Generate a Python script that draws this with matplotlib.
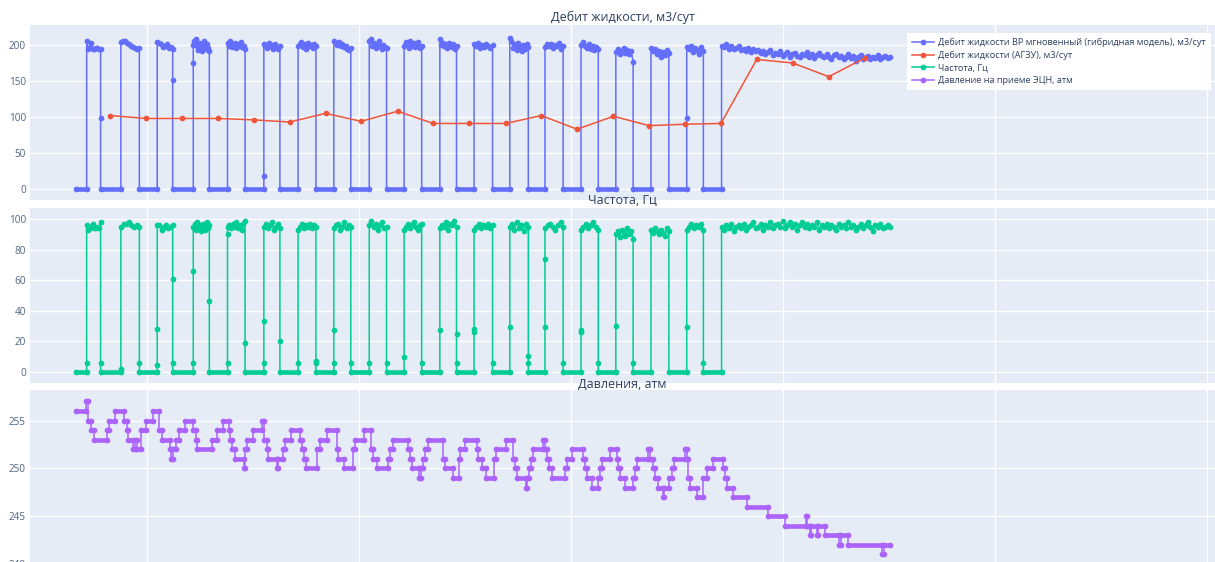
import numpy as np
import matplotlib
matplotlib.use("Agg")
import matplotlib.pyplot as plt

plt.rcParams['font.family'] = ['Open Sans', 'DejaVu Sans']

# время в сутках, сетка по неделям
t_first = -2.33
run_start = [-1.98, -0.85, 0.35, 1.54, 2.67, 3.87, 5.00, 6.18, 7.35, 8.50,
             9.68, 10.81, 11.99, 13.15, 14.34, 15.49, 16.65, 17.83, 18.98]
run_stop = [-1.52, -0.24, 0.86, 2.07, 3.25, 4.40, 5.59, 6.74, 7.92, 9.08,
            10.23, 11.42, 12.60, 13.75, 14.91, 16.06, 17.24, 18.38, 24.54]

# дебит ВР мгновенный, м3/сут (значения на участках работы)
flow_on = [
    [206, 194, 197, 203, 195, 194, 196, 196, 195, 194],
    [204, 205, 205, 203, 201, 198, 197, 196, 195, 196],
    [204, 203, 201, 197, 199, 201, 196, 197, 195],
    [200, 205, 208, 198, 193, 203, 196, 201, 191, 205, 199, 194, 202, 196, 192],
    [203, 198, 205, 197, 200, 203, 196, 201, 198, 204, 197, 199, 195],
    [202, 199, 196, 203, 198, 200, 195, 201, 197, 194, 199],
    [199, 202, 204, 197, 201, 195, 203, 198, 200, 196, 202, 199],
    [206, 203, 200, 204, 198, 201, 197, 199, 195, 193, 196],
    [205, 208, 199, 203, 196, 201, 206, 198, 194, 200, 197, 196],
    [198, 204, 201, 196, 205, 199, 203, 197, 201, 204, 196, 199],
    [208, 200, 203, 198, 201, 196, 203, 199, 197, 201, 195, 198],
    [202, 198, 203, 196, 200, 197, 202, 199, 196, 200],
    [210, 205, 196, 201, 193, 203, 198, 191, 200, 195, 202, 197],
    [197, 201, 199, 202, 196, 200, 198, 203, 195, 199],
    [200, 204, 198, 196, 202, 195, 199, 193, 197, 194],
    [190, 194, 188, 192, 196, 189, 193, 187, 191, 177],
    [196, 192, 194, 188, 191, 184, 190, 186, 193, 189],
    [197, 195, 199, 190, 196, 193, 188, 197, 192],
    [199, 197, 201, 195, 198, 194, 196, 199, 193, 195, 192, 196, 190, 194,
     191, 193, 189, 192, 188, 190, 193, 186, 189, 187, 191, 185, 188, 190,
     184, 187, 189, 185, 183, 188, 186, 190, 184, 187, 182, 186, 189, 185,
     183, 187, 184, 181, 186, 188, 183, 185, 180, 184, 187, 182, 185, 178,
     184, 186, 181, 183, 185, 180, 184, 182, 186, 181, 183, 185, 182, 184],
]
flow_rise = [[], [], [], [175], [], [18], [], [], [], [], [], [], [], [], [], [], [], [99], []]
flow_fall = [[98], [], [151], [], [], [], [], [], [], [], [], [], [], [], [], [], [], [], []]

# дебит по АГЗУ
agzu_time = [-1.21, -0.02, 1.17, 2.35, 3.54, 4.72, 5.91, 7.08, 8.29, 9.46, 10.65,
             11.85, 13.03, 14.21, 15.41, 16.59, 17.78, 18.96, 20.14, 21.33, 22.52, 23.71]
agzu_rate = [102, 98, 98, 98, 96, 93, 105, 94, 108, 91, 91,
             91, 102, 83, 101, 88, 90, 91, 180, 175, 156, 182]

# частота, Гц
freq_on = [
    [96, 93, 94, 95, 97, 94, 94, 95, 94, 98],
    [95, 97, 97, 98, 96, 95, 96, 95],
    [96, 96, 93, 95, 96, 94, 95, 96],
    [95, 97, 93, 98, 94, 96, 92, 97, 95, 93, 98, 94, 96],
    [95, 96, 94, 97, 95, 98, 94, 96, 93, 97, 99],
    [95, 97, 94, 96, 98, 93, 95, 97, 94],
    [93, 95, 97, 94, 96, 95, 97, 94, 96, 95],
    [94, 96, 97, 93, 95, 98, 94, 96, 95],
    [96, 99, 95, 97, 93, 96, 98, 94, 95],
    [93, 95, 97, 94, 96, 98, 95, 93, 96, 97],
    [94, 96, 95, 98, 93, 97, 96, 99, 95],
    [93, 95, 97, 94, 96, 95, 97, 94, 96],
    [95, 97, 93, 98, 94, 96, 92, 97, 95],
    [94, 96, 97, 95, 93, 96, 98, 95],
    [93, 95, 97, 94, 96, 98, 95, 93],
    [90, 92, 88, 93, 91, 89, 94, 90, 92, 87],
    [93, 91, 94, 92, 90, 93, 91, 89, 94, 92],
    [93, 95, 97, 94, 96, 95, 97, 93],
    [95, 93, 96, 94, 97, 92, 95, 96, 94, 97, 93, 95, 96, 98, 94, 95, 97, 93,
     96, 95, 98, 94, 96, 97, 95, 99, 94, 96, 98, 95, 97, 93, 96, 98, 95, 97,
     94, 96, 95, 98, 93, 96, 95, 97, 94, 96, 95, 93, 97, 95, 96, 94, 98, 95,
     96, 93, 95, 97, 94, 96, 98, 95, 92, 96, 95, 97, 94, 95, 96, 95],
]
freq_rise = [[6], [1.5], [4.5, 28], [6, 66], [6, 90], [6, 33], [6], [6, 27.5], [6], [9.5],
             [27], [28, 26], [29], [29, 73.5], [27, 26], [30], [], [29.5], []]
freq_fall = [[6], [6], [60.5, 6], [46.5], [18.5], [20], [7, 6], [6], [6], [6],
             [25, 6], [6], [10.5, 6], [6], [6], [6], [], [6], []]

# давление на приеме ЭЦН, атм (начало ступени, уровень)
p_time = [-2.33, -2.00, -1.93, -1.82, -1.74, -1.32, -1.24, -1.05, -0.75, -0.66,
          -0.61, -0.46, -0.38, -0.31, -0.17, -0.02, 0.22, 0.41, 0.50, 0.77,
          0.80, 0.88, 0.97, 1.08, 1.26, 1.54, 1.63, 1.67, 2.15, 2.31,
          2.51, 2.73, 2.75, 2.81, 2.92, 3.21, 3.26, 3.32, 3.52, 3.82,
          3.87, 3.96, 4.01, 4.29, 4.34, 4.49, 4.57, 4.75, 5.06, 5.12,
          5.19, 5.26, 5.63, 5.72, 5.94, 6.27, 6.33, 6.51, 6.80, 6.88,
          7.17, 7.40, 7.48, 7.59, 7.98, 8.03, 8.14, 8.64, 8.69, 8.75,
          9.00, 9.05, 9.13, 9.19, 9.30, 9.79, 9.85, 10.10, 10.31, 10.34,
          10.51, 10.91, 10.95, 11.06, 11.20, 11.47, 11.53, 11.86, 12.08, 12.16,
          12.22, 12.52, 12.57, 12.63, 12.68, 12.76, 13.09, 13.14, 13.23, 13.28,
          13.37, 13.81, 13.87, 14.03, 14.41, 14.47, 14.53, 14.69, 14.91, 14.97,
          15.04, 15.30, 15.52, 15.57, 15.63, 15.79, 16.07, 16.12, 16.18, 16.56,
          16.62, 16.73, 16.78, 16.89, 17.04, 17.08, 17.25, 17.33, 17.41, 17.77,
          17.83, 17.88, 17.94, 18.16, 18.38, 18.49, 18.69, 19.04, 19.09, 19.17,
          19.37, 19.81, 20.52, 21.07, 21.77, 21.81, 21.90, 21.94, 22.12, 22.16,
          22.39, 22.87, 22.91, 23.16, 24.29, 24.33]
p_level = [256, 257, 255, 254, 253, 254, 255, 256, 255, 254,
           253, 252, 253, 252, 254, 255, 256, 254, 253, 252,
           251, 252, 253, 254, 255, 254, 253, 252, 253, 254,
           255, 254, 253, 252, 251, 250, 252, 253, 254, 255,
           253, 252, 251, 250, 251, 252, 253, 254, 253, 252,
           251, 250, 252, 253, 254, 252, 251, 250, 252, 253,
           254, 252, 251, 250, 251, 252, 253, 252, 251, 250,
           249, 250, 251, 252, 253, 251, 250, 249, 251, 252,
           253, 252, 251, 250, 249, 251, 252, 253, 251, 250,
           249, 248, 249, 250, 251, 252, 253, 252, 251, 250,
           249, 250, 251, 252, 251, 250, 249, 248, 249, 250,
           251, 252, 251, 250, 249, 248, 249, 250, 251, 252,
           251, 250, 249, 248, 247, 248, 249, 250, 251, 252,
           251, 249, 248, 247, 249, 250, 251, 250, 249, 248,
           247, 246, 245, 244, 245, 244, 243, 244, 243, 244,
           243, 242, 243, 242, 241, 242]
p_end = 24.54

BLUE, RED, GREEN, PURPLE = '#636efa', '#EF553B', '#00cc96', '#ab63fa'
BG, TXT = '#E5ECF6', '#2a3f5f'
LW, MS, BAND = 1.1, 3.1, 3.3


def build(on, rise, fall):
    t, y = [t_first, run_start[0]], [0, 0]
    for i in range(len(run_start)):
        for v in rise[i]:
            t.append(run_start[i]); y.append(v)
        t += list(np.linspace(run_start[i], run_stop[i], len(on[i])))
        y += on[i]
        for v in fall[i]:
            t.append(run_stop[i]); y.append(v)
        if i + 1 < len(run_start):
            t += [run_stop[i], run_start[i + 1]]
            y += [0, 0]
    return t, y


def zero_band(ax, color):
    x0 = [t_first] + run_stop[:-1]
    ax.hlines([0] * len(x0), x0, run_start, colors=color, lw=BAND,
              capstyle='round', zorder=2)


fig = plt.figure(figsize=(12.15, 5.62), dpi=100)
W, H = 1215, 562


def make_ax(top):
    ax = fig.add_axes([30 / W, 1 - (top + 175) / H, 1185 / W, 175 / H])
    ax.set_facecolor(BG)
    for s in ax.spines.values():
        s.set_visible(False)
    ax.grid(True, color='white', lw=1)
    ax.set_axisbelow(True)
    ax.set_xlim(-3.85, 35.27)
    ax.set_xticks([0, 7, 14, 21, 28, 35])
    ax.set_xticklabels([])
    ax.tick_params(length=0, labelsize=7.2, labelcolor='#506784', pad=3)
    return ax


ax1 = make_ax(25)
ax2 = make_ax(208)
ax3 = make_ax(390)

tf, yf = build(flow_on, flow_rise, flow_fall)
zero_band(ax1, BLUE)
h1, = ax1.plot(tf, yf, '-o', color=BLUE, lw=LW, ms=MS, zorder=3,
               label='Дебит жидкости ВР мгновенный (гибридная модель), м3/сут')
h2, = ax1.plot(agzu_time, agzu_rate, '-o', color=RED, lw=LW, ms=MS, zorder=4,
               label='Дебит жидкости (АГЗУ), м3/сут')
ax1.set_ylim(-15.3, 227.8)
ax1.set_yticks([0, 50, 100, 150, 200])

tq, yq = build(freq_on, freq_rise, freq_fall)
zero_band(ax2, GREEN)
h3, = ax2.plot(tq, yq, '-o', color=GREEN, lw=LW, ms=MS, zorder=3, label='Частота, Гц')
ax2.set_ylim(-7.4, 107.2)
ax2.set_yticks([0, 20, 40, 60, 80, 100])

p_stop = p_time[1:] + [p_end]
ax3.hlines(p_level, p_time, p_stop, colors=PURPLE, lw=BAND, capstyle='round', zorder=2)
tp = np.ravel(np.column_stack([p_time, p_stop]))
yp = np.repeat(p_level, 2)
h4, = ax3.plot(tp, yp, '-o', color=PURPLE, lw=LW, ms=MS, zorder=3,
               label='Давление на приеме ЭЦН, атм')
ax3.set_ylim(239.9, 258.2)
ax3.set_yticks([240, 245, 250, 255])

for txt, y in [('Дебит жидкости, м3/сут', 17), ('Частота, Гц', 200), ('Давления, атм', 384)]:
    fig.text(622.5 / W, 1 - y / H, txt, ha='center', va='center', fontsize=9, color=TXT)

leg = fig.legend(handles=[h1, h2, h3, h4], loc='upper left',
                 bbox_to_anchor=(907 / W, 1 - 33 / H), fontsize=6.6, frameon=True,
                 fancybox=False, framealpha=1, edgecolor='white', labelcolor=TXT,
                 handlelength=2.4, handletextpad=0.5, labelspacing=0.4,
                 borderpad=0.5, borderaxespad=0)
leg.get_frame().set_linewidth(0)

fig.savefig('out.png', dpi=100)
